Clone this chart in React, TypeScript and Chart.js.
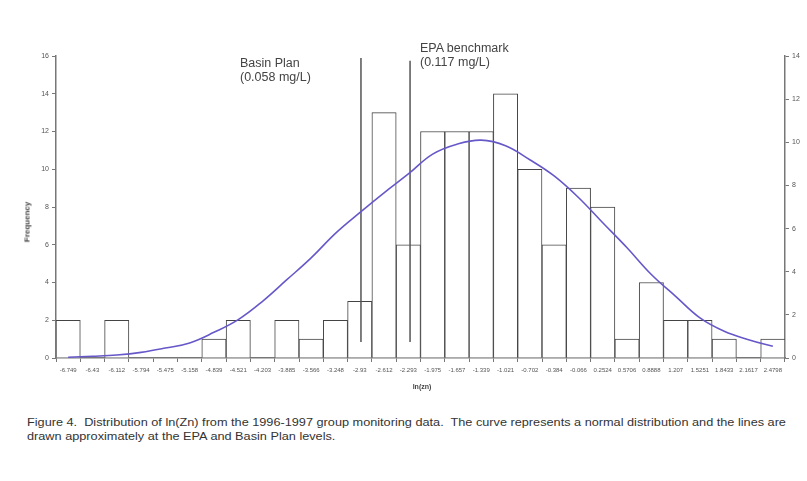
import React, { useEffect, useRef } from "react";
import { Chart, registerables } from "chart.js";

Chart.register(...registerables);

const binLabels = [
  "-6.749", "-6.43", "-6.112", "-5.794", "-5.475", "-5.158", "-4.839", "-4.521",
  "-4.203", "-3.885", "-3.566", "-3.248", "-2.93", "-2.612", "-2.293", "-1.975",
  "-1.657", "-1.339", "-1.021", "-0.702", "-0.384", "-0.066", "0.2524", "0.5706",
  "0.8888", "1.207", "1.5251", "1.8433", "2.1617", "2.4798",
];

const frequency = [
  2, 0, 2, 0, 0, 0, 1, 2, 0, 2, 1, 2, 3, 13, 6, 12, 12, 12, 14, 10, 6, 9, 8, 1, 4,
  2, 2, 1, 0, 1,
];

// normal curve, read against the right-hand axis (0-14)
const normalCurve = [
  0.035, 0.08, 0.14, 0.26, 0.46, 0.7, 1.19, 1.78, 2.63, 3.63, 4.64, 5.78, 6.74,
  7.66, 8.53, 9.45, 9.91, 10.1, 9.84, 9.19, 8.44, 7.44, 6.27, 5.11, 3.87, 2.86,
  1.86, 1.24, 0.85, 0.54,
];

// reference lines (position in bin index units, low / high frequency)
const basinPlanX = 12.05;
const basinPlanY = [0.85, 15.9];
const epaX = 14.07;
const epaY = [0.85, 15.75];

const leftTicks = { min: 0, max: 16, step: 2 };
const rightTicks = { min: 0, max: 14, step: 2 };

const FONT = "'Liberation Sans', Arial, sans-serif";

export default function App() {
  const ref = useRef<HTMLCanvasElement | null>(null);

  useEffect(() => {
    if (!ref.current) return;
    const chart = new Chart(ref.current, {
      type: "bar",
      data: {
        labels: binLabels,
        datasets: [
          {
            type: "line",
            data: normalCurve,
            yAxisID: "y1",
            xAxisID: "x",
            borderColor: "#6658c8",
            borderWidth: 1.6,
            pointRadius: 0,
            tension: 0.4,
            fill: false,
            order: 0,
          } as any,
          {
            type: "line",
            data: basinPlanY.map((y) => ({ x: basinPlanX, y })),
            xAxisID: "x2",
            yAxisID: "y",
            borderColor: "#555",
            borderWidth: 1.5,
            pointRadius: 0,
            order: 1,
          } as any,
          {
            type: "line",
            data: epaY.map((y) => ({ x: epaX, y })),
            xAxisID: "x2",
            yAxisID: "y",
            borderColor: "#555",
            borderWidth: 1.5,
            pointRadius: 0,
            order: 1,
          } as any,
          {
            type: "bar",
            data: frequency,
            yAxisID: "y",
            xAxisID: "x",
            backgroundColor: "#ffffff",
            borderColor: "#444",
            borderWidth: 1,
            borderSkipped: "bottom",
            barPercentage: 1,
            categoryPercentage: 1,
            grouped: false,
            order: 2,
          } as any,
        ],
      },
      options: {
        responsive: false,
        animation: false,
        layout: { padding: { top: 56, left: 0, right: 0, bottom: 0 } },
        plugins: { legend: { display: false }, tooltip: { enabled: false } },
        scales: {
          x: {
            type: "category",
            offset: true,
            grid: {
              offset: true,
              drawOnChartArea: false,
              tickLength: 4,
              color: "#777",
              tickWidth: 1,
            },
            border: { color: "#777", width: 1.5 },
            ticks: {
              autoSkip: false,
              maxRotation: 0,
              minRotation: 0,
              padding: 5,
              color: "#555",
              font: { family: FONT, size: 6 },
            },
            afterFit: (s: any) => {
              s.height = 42;
            },
          },
          x2: {
            type: "linear",
            display: false,
            offset: false,
            grid: { offset: false },
            min: -0.5,
            max: 29.5,
          },
          y: {
            position: "left",
            min: leftTicks.min,
            max: leftTicks.max,
            ticks: {
              stepSize: leftTicks.step,
              padding: 3,
              color: "#555",
              font: { family: FONT, size: 7 },
            },
            grid: { drawOnChartArea: false, tickLength: 4, color: "#777" },
            border: { color: "#777", width: 1.5 },
            afterFit: (s: any) => {
              s.width = 56;
            },
          },
          y1: {
            position: "right",
            min: rightTicks.min,
            max: rightTicks.max,
            ticks: {
              stepSize: rightTicks.step,
              padding: 3,
              color: "#555",
              font: { family: FONT, size: 7 },
            },
            grid: { drawOnChartArea: false, tickLength: 4, color: "#777" },
            border: { color: "#777", width: 1.5 },
            afterFit: (s: any) => {
              s.width = 22;
            },
          },
        },
      },
    });
    return () => chart.destroy();
  }, []);

  const textStyle: React.CSSProperties = {
    position: "absolute",
    fontFamily: FONT,
    color: "#333",
    whiteSpace: "nowrap",
  };

  return (
    <div
      style={{
        position: "fixed",
        left: 0,
        top: 0,
        width: 807,
        height: 481,
        background: "#fff",
        overflow: "hidden",
      }}
    >
      <canvas
        ref={ref}
        width={807}
        height={400}
        style={{ position: "absolute", left: 0, top: 0, width: 807, height: 400 }}
      />
      <div style={{ ...textStyle, left: 240, top: 57, fontSize: 12.5, lineHeight: "13.5px", color: "#444" }}>
        Basin Plan
        <br />
        (0.058 mg/L)
      </div>
      <div style={{ ...textStyle, left: 420, top: 42, fontSize: 12.5, lineHeight: "13.5px", color: "#444" }}>
        EPA benchmark
        <br />
        (0.117 mg/L)
      </div>
      <div
        style={{
          ...textStyle,
          left: 422,
          top: 386,
          fontSize: 7,
          fontWeight: "bold",
          transform: "translate(-50%, -50%)",
          color: "#444",
        }}
      >
        ln(zn)
      </div>
      <div
        style={{
          ...textStyle,
          left: 27,
          top: 222,
          fontSize: 8,
          fontWeight: "bold",
          transform: "translate(-50%, -50%) rotate(-90deg)",
          color: "#444",
        }}
      >
        Frequency
      </div>
      <div
        style={{
          ...textStyle,
          left: 27,
          top: 415,
          fontSize: 10.5,
          lineHeight: "14px",
          color: "#333",
          transform: "scaleX(1.21)",
          transformOrigin: "left top",
        }}
      >
        Figure 4.&nbsp; Distribution of ln(Zn) from the 1996-1997 group monitoring data.&nbsp; The curve
        represents a normal distribution and the lines are
        <br />
        drawn approximately at the EPA and Basin Plan levels.
      </div>
    </div>
  );
}
